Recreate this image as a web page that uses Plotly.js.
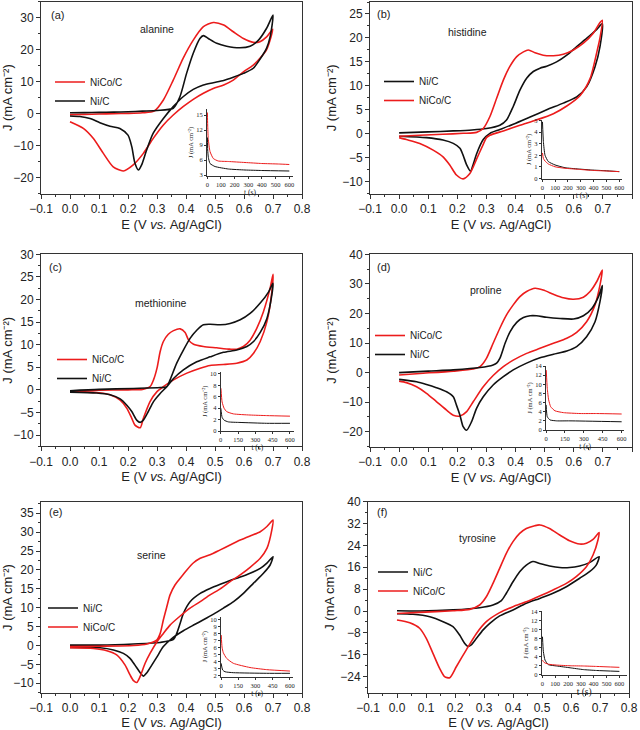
<!DOCTYPE html>
<html><head><meta charset="utf-8">
<script src="https://cdn.plot.ly/plotly-3.0.1.min.js"></script>
<style>html,body{margin:0;padding:0;background:#fff}#chart{width:640px;height:730px}</style>
</head><body><div id="chart"></div>
<script>
// ---------- (a) alanine ----------
const alaNiCoE = [0,0.05,0.1,0.15,0.2,0.25,0.29,0.322,0.356,0.39,0.425,0.46,0.494,0.53,0.563,0.598,0.632,0.655,0.678,0.699, 0.69,0.678,0.655,0.632,0.598,0.563,0.53,0.494,0.46,0.425,0.39,0.356,0.322,0.287,0.253,0.218,0.184,0.149,0.115,0.08,0.046,0];
const alaNiCoJ = [-0.3,-0.2,-0.1,0,0.1,0.3,0.8,4.3,10.5,17.3,23,27.2,28.5,27.7,25.6,23.5,22.3,22.5,24,26.4, 23,20,17.3,15.2,13.1,10.5,9,7.9,6.4,4.5,2.2,-0.4,-3.5,-7.7,-12.4,-16,-17.9,-16.6,-12.4,-7.7,-4.6,-2.5];
const alaNiE = [0,0.05,0.1,0.15,0.2,0.25,0.3,0.356,0.379,0.402,0.425,0.448,0.46,0.477,0.506,0.54,0.586,0.621,0.65,0.678,0.7, 0.69,0.678,0.655,0.632,0.598,0.563,0.53,0.494,0.46,0.425,0.39,0.356,0.322,0.287,0.264,0.247,0.236,0.224,0.213,0.2,0.172,0.138,0.103,0.069,0.034,0];
const alaNiJ = [0.3,0.35,0.4,0.5,0.6,0.8,1.0,1.7,5.3,12.6,18.9,23.5,24.4,23.5,22,21.1,20.6,21.1,23,26.7,30.8, 24,20.5,17,14.2,12.6,11.4,10.4,9.7,9,7.6,5.3,2.2,-1.5,-6.1,-11.4,-16,-17.6,-15.5,-10.3,-6.7,-4.6,-3.9,-2.8,-1.5,-0.9,-0.7];
const alaNiCoT = [1,3,7,20,44,80,154,276,398,520,600];
const alaNiCoI = [15.5,13,10.3,7.7,6.3,5.8,5.7,5.5,5.3,5.2,5.1];
const alaNiT = [1,3,8,20,56,154,276,398,600];
const alaNiI = [10.5,8,6.5,5.3,4.7,4.2,4.0,3.9,3.8];

// ---------- (b) histidine ----------
const hisNiE = [0,0.1,0.186,0.25,0.3,0.346,0.369,0.392,0.415,0.438,0.461,0.484,0.507,0.541,0.576,0.61,0.644,0.679,0.698, 0.69,0.673,0.644,0.61,0.564,0.507,0.45,0.392,0.346,0.312,0.289,0.266,0.255,0.245,0.232,0.22,0.209,0.186,0.151,0.094,0];
const hisNiJ = [0.2,0.4,0.6,0.8,1.1,1.8,2.9,5.7,9.1,11.6,13,13.7,14.1,15,16.4,18.2,19.9,21.8,23, 18.2,14,9.8,7.7,6.4,5,3.5,2,0.9,0.1,-1.2,-4.2,-6.3,-7.8,-6.5,-4.5,-3,-2,-1.3,-0.8,-0.5];
const hisNiCoE = [0,0.071,0.15,0.22,0.266,0.289,0.312,0.335,0.358,0.381,0.404,0.427,0.444,0.467,0.495,0.53,0.564,0.599,0.633,0.667,0.69,0.698, 0.69,0.679,0.656,0.622,0.576,0.53,0.472,0.415,0.358,0.312,0.3,0.289,0.266,0.243,0.22,0.197,0.174,0.151,0.117,0.071,0.025,0];
const hisNiCoJ = [-0.5,-0.3,-0.1,0.1,0.3,1.1,3.6,7.4,11.2,14.1,16.1,17.1,17.5,16.9,16.4,16.3,16.6,17.5,18.9,21,23.2,23.7, 20,17,11.5,8,5.8,4.2,2.9,1.8,0.6,-0.3,-0.8,-2.2,-5.3,-8.3,-9.4,-8.6,-6.5,-4.8,-3.4,-2,-1.2,-0.8];
const hisNiT = [1,8,21,47,99,177,281,384,488,600];
const hisNiI = [4.9,3.2,2,1.45,1.16,0.92,0.81,0.72,0.66,0.58];
const hisNiCoT = [1,8,21,47,99,177,281,384,488,600];
const hisNiCoI = [2.2,1.73,1.5,1.24,1.0,0.87,0.78,0.69,0.64,0.58];

// ---------- (c) methionine ----------
const metNiCoE = [0,0.1,0.2,0.25,0.276,0.288,0.3,0.311,0.322,0.339,0.357,0.38,0.397,0.409,0.426,0.46,0.506,0.552,0.575,0.598,0.621,0.644,0.667,0.69,0.7, 0.696,0.679,0.656,0.633,0.61,0.575,0.529,0.483,0.449,0.403,0.357,0.322,0.3,0.276,0.253,0.242,0.224,0.213,0.196,0.173,0.138,0.092,0];
const metNiCoJ = [-0.3,-0.1,0,0.1,0.7,2.2,4.8,8.5,10.7,12.3,13.1,13.5,12.7,11,10.1,9.6,9.3,9,9,9.6,11,13.6,17.3,22.5,25.6, 21.7,15.1,10.7,8.1,6.6,5.9,5.6,5.4,4.8,3.7,2.2,0.7,-0.4,-2.6,-6.3,-8.4,-7.8,-6.3,-4.1,-2.3,-1.1,-0.6,-0.4];
const metNiE = [0,0.1,0.219,0.311,0.334,0.345,0.368,0.391,0.414,0.437,0.46,0.483,0.518,0.552,0.587,0.621,0.656,0.685,0.7, 0.696,0.679,0.656,0.633,0.61,0.575,0.529,0.483,0.437,0.391,0.357,0.334,0.311,0.288,0.27,0.253,0.242,0.23,0.213,0.196,0.173,0.138,0.092,0];
const metNiJ = [-0.2,0.1,0.3,0.5,0.7,2.2,5.9,8.8,11.4,13.2,14.4,14.5,14.4,14.7,15.5,16.9,19.2,21.7,23.6, 21,15.8,12.7,10.7,9.6,8.8,8.3,7.3,6.2,4.4,2.5,0.7,-0.8,-2.6,-4.8,-6.7,-7.2,-6.7,-4.8,-3.4,-2,-1.1,-0.7,-0.5];
const metNiCoT = [2,12,29,52,110,254,398,600];
const metNiCoI = [7.5,5.1,4,3.4,3,2.8,2.7,2.6];
const metNiT = [1,12,29,66,167,398,600];
const metNiI = [4,2.4,1.9,1.6,1.5,1.35,1.35];

// ---------- (d) proline ----------
const proNiCoE = [0,0.071,0.186,0.255,0.278,0.3,0.323,0.346,0.369,0.392,0.415,0.438,0.467,0.495,0.53,0.564,0.599,0.633,0.656,0.679,0.698, 0.69,0.673,0.644,0.61,0.576,0.53,0.484,0.438,0.392,0.358,0.323,0.289,0.255,0.232,0.209,0.186,0.163,0.128,0.094,0.06,0.025,0];
const proNiCoJ = [-0.8,-0.3,0.5,1.2,2,4.8,9.9,15,19.5,22.9,25.7,27.4,28.5,27.9,26.5,25.3,24.8,25.5,27.4,30.8,34.7, 29.6,22.9,17.2,13.6,11.6,9.9,8.2,6.5,4.2,2,-1,-4.8,-9.8,-13.2,-14.7,-14.4,-12.7,-9.8,-7,-4.8,-3.4,-2.9];
const proNiE = [0,0.1,0.186,0.278,0.323,0.335,0.346,0.364,0.381,0.404,0.427,0.45,0.472,0.507,0.553,0.599,0.633,0.662,0.685,0.698, 0.69,0.673,0.644,0.61,0.576,0.53,0.484,0.438,0.392,0.358,0.323,0.289,0.266,0.249,0.232,0.22,0.209,0.197,0.186,0.163,0.128,0.094,0.06,0];
const proNiJ = [0,0.5,0.9,1.7,2.6,3.2,4.8,9.9,13.8,17,18.6,19.2,19.2,18.7,18.3,18.1,19.2,21.7,25.7,29.4, 24,17.2,12.1,8.8,7.3,6.2,5,3.2,0.9,-1.4,-4.2,-8.2,-12.1,-16.6,-19.5,-18.3,-14.4,-11,-8.2,-6.5,-5.1,-4,-3.1,-2.3];
const proNiCoT = [2,10,21,37,71,138,270,402,600];
const proNiCoI = [13.1,9.1,6.6,5.1,4.2,3.8,3.6,3.6,3.5];
const proNiT = [1,10,32,85,190,600];
const proNiI = [5.5,2.9,2.2,2.0,2.0,1.8];

// ---------- (e) serine ----------
const serNiE = [0,0.104,0.219,0.311,0.357,0.368,0.38,0.391,0.414,0.449,0.483,0.518,0.552,0.587,0.621,0.656,0.679,0.7, 0.69,0.667,0.633,0.598,0.564,0.529,0.495,0.46,0.426,0.391,0.357,0.322,0.3,0.282,0.265,0.253,0.242,0.224,0.207,0.184,0.15,0.104,0];
const serNiJ = [0.1,0.1,0.4,0.8,1.6,3.2,5.9,8.5,11.6,13.8,15.1,16.2,17.2,18.1,19.1,20.4,21.8,23.5, 21.3,19.1,16.5,13.8,11.6,9.9,8.3,6.8,5.4,3.9,2.2,-0.3,-3,-5.2,-7.2,-8.1,-7.2,-5.2,-3.4,-2.1,-1.2,-0.6,-0.5];
const serNiCoE = [0,0.1,0.219,0.265,0.3,0.311,0.322,0.334,0.345,0.362,0.38,0.403,0.426,0.449,0.483,0.518,0.552,0.587,0.621,0.656,0.679,0.7, 0.696,0.679,0.656,0.621,0.587,0.552,0.518,0.483,0.449,0.414,0.38,0.345,0.322,0.3,0.276,0.259,0.242,0.23,0.219,0.207,0.19,0.161,0.127,0.081,0];
const serNiCoJ = [-0.3,-0.2,0,0.4,1.5,3.2,6.8,10.3,13.4,16,17.8,20,21.9,23.1,24,25.3,26.6,27.9,29,30.1,31.5,33.2, 30.6,25.7,23.1,20.7,18.7,16.9,15,13.4,11.6,9.9,7.8,5.4,3.2,1,-2.1,-4.7,-8.2,-9.8,-9.3,-7.8,-5.2,-2.5,-1.4,-0.8,-0.6];
const serNiT = [1,14,35,107,397,600];
const serNiI = [3.8,2.85,2.6,2.47,2.38,2.38];
const serNiCoT = [2,9,20,49,107,252,397,600];
const serNiCoI = [7.8,6.1,5.3,4.5,3.8,3.2,2.9,2.7];

// ---------- (f) tyrosine ----------
const tyrNiE = [0,0.078,0.193,0.285,0.331,0.36,0.377,0.4,0.423,0.446,0.469,0.492,0.526,0.561,0.595,0.63,0.664,0.697, 0.687,0.664,0.63,0.584,0.538,0.492,0.446,0.4,0.354,0.32,0.297,0.274,0.256,0.245,0.233,0.216,0.193,0.159,0.113,0.055,0];
const tyrNiJ = [0.1,0,0.4,1.2,2.2,3.8,6.5,10.7,14.4,16.8,18.1,17.4,16.5,15.9,15.9,16.5,17.7,19.9, 16.8,14.4,12,8.9,6.5,4.6,2.8,0.4,-1.8,-4.5,-6.9,-10,-12.4,-13,-11.8,-8.8,-5.7,-3.9,-2.1,-1.2,-1];
const tyrNiCoE = [0,0.078,0.193,0.251,0.285,0.308,0.331,0.354,0.377,0.4,0.423,0.446,0.475,0.492,0.526,0.561,0.595,0.63,0.653,0.676,0.697, 0.693,0.676,0.653,0.618,0.584,0.538,0.492,0.446,0.4,0.354,0.308,0.274,0.239,0.205,0.182,0.164,0.147,0.124,0.101,0.078,0.044,0];
const tyrNiCoJ = [-0.9,-0.5,0.1,0.6,2.2,5.2,10.1,15.6,21.1,25.4,28.4,30.2,31.2,31.5,30.2,27.8,25.7,24.5,24.8,26.2,28.7, 26,20.5,16.2,12.6,10.1,7.7,5.5,3.4,1.6,-0.6,-3.9,-8.2,-14.2,-20.3,-24.4,-24,-21,-15.5,-10,-6.3,-4.3,-3.3];
const tyrNiT = [1,8,21,47,112,216,319,423,600];
const tyrNiI = [8.4,5.1,3.2,2.2,1.9,1.5,1.1,0.9,0.7];
const tyrNiCoT = [1,13,47,112,216,319,423,600];
const tyrNiCoI = [3.2,2.7,2.3,2.1,1.95,1.9,1.8,1.6];

const panelNames = ['alanine','histidine','methionine','proline','serine','tyrosine'];
const panelLabels = ['(a)','(b)','(c)','(d)','(e)','(f)'];
const mainYTicks = [10,5,5,10,5,8];
const insetXTicks = [100,100,150,150,150,100];
const insetYTicks = [3,1,2,2,1,2];

// ---------- layout geometry (pixels) ----------
const W = 640, H = 730;
const RED = 'rgb(236,28,28)', BLK = '#111111';
const mainBox = [[41,302,1.7,193.7],[370,632,2,193.7],[41,302,254.3,446.3],[370,632,254.3,446.5],[41,302,502.3,692.7],[368,629,501.7,693]];
const mainYRange = [[-25,35],[-12.5,27.5],[-12.5,30],[-25,40],[-12.5,37.9],[-30,40]];
const insetBox = [[207,293,109,176],[541.7,621.7,120,179],[220.7,294,371.7,431],[546,624.3,366,430],[221,293.3,616.7,676.7],[541.7,626.7,611,675]];
const insetXRange = [[-2,627],[-5,619],[0,635],[0,621],[0,629],[-5,657]];
const insetYRange = [[2.8,16.2],[-0.06,5.06],[0,10.4],[0,14],[1.9,10.4],[-0.1,14.1]];
const legendPos = [[50,91.5],[379,91],[52,369],[370,345],[43,617.5],[373,581.5]];
const labelPos = [[57,15],[383,14],[55,267],[383,267],[55,512],[382,512]];
const namePos = [[157,29],[467,32],[161,303],[486,290],[151,555],[477,538]];

const series = [
  [['NiCo/C',RED,alaNiCoE,alaNiCoJ,alaNiCoT,alaNiCoI],['Ni/C',BLK,alaNiE,alaNiJ,alaNiT,alaNiI]],
  [['Ni/C',BLK,hisNiE,hisNiJ,hisNiT,hisNiI],['NiCo/C',RED,hisNiCoE,hisNiCoJ,hisNiCoT,hisNiCoI]],
  [['NiCo/C',RED,metNiCoE,metNiCoJ,metNiCoT,metNiCoI],['Ni/C',BLK,metNiE,metNiJ,metNiT,metNiI]],
  [['NiCo/C',RED,proNiCoE,proNiCoJ,proNiCoT,proNiCoI],['Ni/C',BLK,proNiE,proNiJ,proNiT,proNiI]],
  [['Ni/C',BLK,serNiE,serNiJ,serNiT,serNiI],['NiCo/C',RED,serNiCoE,serNiCoJ,serNiCoT,serNiCoI]],
  [['Ni/C',BLK,tyrNiE,tyrNiJ,tyrNiT,tyrNiI],['NiCo/C',RED,tyrNiCoE,tyrNiCoJ,tyrNiCoT,tyrNiCoI]]
];

const SANS = 'Liberation Sans, Arial, sans-serif';
const SERIF = 'Liberation Serif, Times New Roman, serif';
const J_TITLE = 'J (mA cm\u207B\u00B2)';
const xd = (a,b) => [a/W, b/W];
const yd = (t,b) => [1-b/H, 1-t/H];
const sfx = i => (i===0 ? '' : String(i+1));

const traces = [];
const layout = {
  width: W, height: H, margin: {l:0,r:0,t:0,b:0},
  paper_bgcolor:'#fff', plot_bgcolor:'rgba(0,0,0,0)',
  font: {family: SANS, color:'#222'},
  annotations: []
};

for (let p = 0; p < 6; p++) {
  const mi = p, ii = p + 6;
  const mx = 'x' + sfx(mi), my = 'y' + sfx(mi);
  const ix = 'x' + sfx(ii), iy = 'y' + sfx(ii);
  const legName = 'legend' + sfx(p);
  const mb = mainBox[p], ib = insetBox[p];

  layout['xaxis' + sfx(mi)] = {
    domain: xd(mb[0], mb[1]), anchor: my, range: [-0.1, 0.8], tick0: 0, dtick: 0.1, tickformat: '.1f',
    ticks: 'outside', ticklen: 4, tickwidth: 1, tickcolor:'#333',
    minor: {ticks:'outside', ticklen: 2, dtick: 0.05, tickcolor:'#333'},
    showline: true, mirror: true, linecolor: '#333', linewidth: 1, showgrid: false, zeroline: false,
    tickfont: {family: SANS, size: 12, color: '#222'},
    title: {text: 'E (V <i>vs.</i> Ag/AgCl)', font: {family: SANS, size: 13, color:'#222'}, standoff: 4}
  };
  layout['yaxis' + sfx(mi)] = {
    domain: yd(mb[2], mb[3]), anchor: mx, range: mainYRange[p], tick0: 0, dtick: mainYTicks[p],
    ticks: 'outside', ticklen: 4, tickwidth: 1, tickcolor:'#333',
    minor: {ticks:'outside', ticklen: 2, dtick: mainYTicks[p]/2, tickcolor:'#333'},
    showline: true, mirror: true, linecolor: '#333', linewidth: 1, showgrid: false, zeroline: false,
    tickfont: {family: SANS, size: 12, color: '#222'},
    title: {text: J_TITLE, font: {family: SANS, size: 13, color:'#222'}, standoff: 2}
  };
  layout['xaxis' + sfx(ii)] = {
    domain: xd(ib[0], ib[1]), anchor: iy, range: insetXRange[p], tick0: 0, dtick: insetXTicks[p],
    ticks: 'outside', ticklen: 2, tickwidth: 1, tickcolor:'#333',
    showline: true, linecolor: '#333', linewidth: 1, showgrid: false, zeroline: false,
    tickfont: {family: SERIF, size: 6.5, color: '#222'},
    title: {text: 't (s)', font: {family: SERIF, size: p===5 ? 9.5 : 7.5, color:'#222'}, standoff: 0}
  };
  layout['yaxis' + sfx(ii)] = {
    domain: yd(ib[2], ib[3]), anchor: ix, range: insetYRange[p], tick0: 0, dtick: insetYTicks[p],
    ticks: 'outside', ticklen: 2, tickwidth: 1, tickcolor:'#333',
    showline: true, linecolor: '#333', linewidth: 1, showgrid: false, zeroline: false,
    tickfont: {family: SERIF, size: 6.5, color: '#222'},
    title: {text: J_TITLE, font: {family: SERIF, size: 6.5, color:'#222'}, standoff: 1}
  };

  layout[legName] = {
    x: legendPos[p][0]/W, y: 1 - legendPos[p][1]/H, xanchor: 'left', yanchor: 'middle',
    bgcolor: 'rgba(0,0,0,0)', borderwidth: 0, font: {family: SANS, size: 10, color:'#222'},
    itemwidth: 30, tracegroupgap: 0
  };

  series[p].forEach(s => {
    traces.push({
      type: 'scatter', mode: 'lines', name: s[0], x: s[2], y: s[3], xaxis: mx, yaxis: my,
      line: {color: s[1], width: 1.6, shape: 'spline', smoothing: 0.7},
      legend: legName, showlegend: true, hoverinfo: 'skip'
    });
  });
  series[p].forEach(s => {
    traces.push({
      type: 'scatter', mode: 'lines', name: s[0] + ' CA', x: s[4], y: s[5], xaxis: ix, yaxis: iy,
      line: {color: s[1], width: 1, shape: 'spline', smoothing: 0.5},
      showlegend: false, hoverinfo: 'skip'
    });
  });

  layout.annotations.push({
    xref: 'paper', yref: 'paper', x: labelPos[p][0]/W, y: 1 - labelPos[p][1]/H,
    text: panelLabels[p], showarrow: false, xanchor: 'center', yanchor: 'middle',
    font: {family: SANS, size: 11, color: '#222'}
  });
  layout.annotations.push({
    xref: 'paper', yref: 'paper', x: namePos[p][0]/W, y: 1 - namePos[p][1]/H,
    text: panelNames[p], showarrow: false, xanchor: 'center', yanchor: 'middle',
    font: {family: SANS, size: 10.5, color: '#222'}
  });
}

Plotly.newPlot('chart', traces, layout, {staticPlot: true, displayModeBar: false});
</script></body></html>
